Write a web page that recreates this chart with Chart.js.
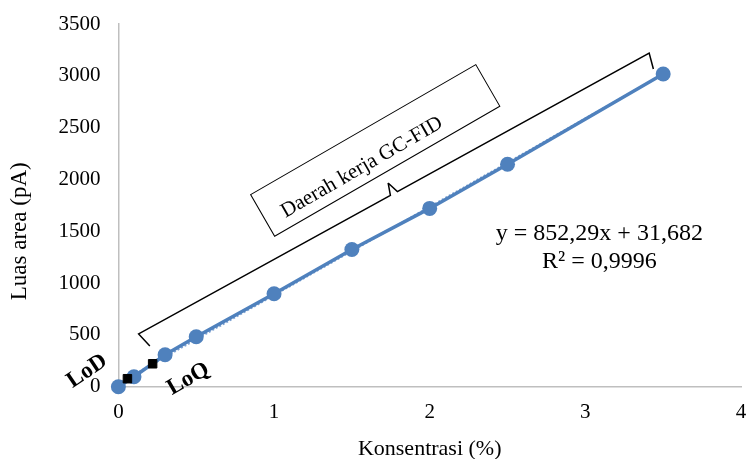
<!DOCTYPE html>
<html>
<head>
<meta charset="utf-8">
<script src="https://cdn.jsdelivr.net/npm/chart.js@4.4.1/dist/chart.umd.min.js"></script>
<style>
  html, body { margin: 0; padding: 0; background: #fff; overflow: hidden; }
  #wrap { width: 748px; height: 459px; }
</style>
</head>
<body>
<div id="wrap"><canvas id="kalibrasi"></canvas></div>
<script>
// calibration points
const konsentrasi = [0, 0.1, 0.3, 0.5, 1.0, 1.5, 2.0, 2.5, 3.5];
const luasArea = [0, 97, 309, 483, 897, 1325, 1721, 2147, 3017];

// linear trend (Excel) ends
const trendX = [0, 3.5];
const trendY = [31.682, 3014.7];

// LoD and LoQ markers
const limitX = [0.058, 0.22];
const limitY = [78, 222];

const xTicks = [0, 1, 2, 3, 4];
const yTicks = [0, 500, 1000, 1500, 2000, 2500, 3000, 3500];

const blue = '#4F81BD';
const serif = "'Liberation Serif', 'Times New Roman', serif";

// annotation helper plugin: bracket, rotated box, labels, equation
const annotasi = {
    id: 'annotasi',
    afterDatasetsDraw(chart) {
        const ctx = chart.ctx;
        const xs = chart.scales.x, ys = chart.scales.y;
        const px = v => xs.getPixelForValue(v);
        const py = v => ys.getPixelForValue(v);
        ctx.save();

        // bracket over the working range
        const x1 = px(0.13), y1 = py(510);
        const x2 = px(3.41), y2 = py(3220);
        const ang = Math.atan2(y2 - y1, x2 - x1);
        const nx = -Math.sin(ang), ny = Math.cos(ang); // normal pointing down-right
        const hook = 16;
        ctx.strokeStyle = '#000';
        ctx.lineWidth = 1.5;
        const mx = (x1 + x2) / 2, my = (y1 + y2) / 2;
        ctx.beginPath();
        ctx.moveTo(x1 + nx * hook + Math.cos(ang) * 4, y1 + ny * hook + Math.sin(ang) * 4);
        ctx.lineTo(x1, y1);
        ctx.lineTo(mx - Math.cos(ang) * 4, my - Math.sin(ang) * 4);
        ctx.lineTo(mx - nx * 12, my - ny * 12);
        ctx.moveTo(mx - nx * 12, my - ny * 12);
        ctx.lineTo(mx + Math.cos(ang) * 4, my + Math.sin(ang) * 4);
        ctx.lineTo(x2, y2);
        ctx.lineTo(x2 + nx * hook - Math.cos(ang) * 4, y2 + ny * hook - Math.sin(ang) * 4);
        ctx.stroke();

        // rotated text box
        const bx = px(1.65), by = py(2280);
        ctx.translate(bx, by);
        ctx.rotate(-30 * Math.PI / 180);
        ctx.fillStyle = '#fff';
        ctx.fillRect(-130, -24, 260, 48);
        ctx.lineWidth = 1;
        ctx.strokeRect(-130, -24, 260, 48);
        ctx.fillStyle = '#000';
        ctx.font = '21px ' + serif;
        ctx.textAlign = 'center';
        ctx.textBaseline = 'middle';
        ctx.fillText('Daerah kerja GC-FID', -20, 8);
        ctx.setTransform(1, 0, 0, 1, 0, 0);

        // LoD / LoQ labels
        ctx.font = 'bold 23px ' + serif;
        ctx.textAlign = 'center';
        ctx.textBaseline = 'middle';
        ctx.translate(px(-0.2), py(150));
        ctx.rotate(-34 * Math.PI / 180);
        ctx.fillText('LoD', 0, 0);
        ctx.setTransform(1, 0, 0, 1, 0, 0);
        ctx.translate(px(0.449), py(75));
        ctx.rotate(-30 * Math.PI / 180);
        ctx.fillText('LoQ', 0, 0);
        ctx.setTransform(1, 0, 0, 1, 0, 0);

        // y axis title, set lower like the original
        ctx.translate(20, py(1500));
        ctx.rotate(-Math.PI / 2);
        ctx.font = '23px ' + serif;
        ctx.fillText('Luas area (pA)', 0, 0);
        ctx.setTransform(1, 0, 0, 1, 0, 0);

        // trend equation
        ctx.font = '24px ' + serif;
        ctx.fillText('y = 852,29x + 31,682', px(3.09), py(1480));
        ctx.fillText('R² = 0,9996', px(3.09), py(1210));
        ctx.restore();
    }
};

// keep tick padding from adding to the outer margins
const noOverhang = axis => {
    axis.paddingTop = 0;
    axis.paddingBottom = 0;
    axis.paddingLeft = 0;
    axis.paddingRight = 0;
};

const ctx = document.getElementById('kalibrasi').getContext('2d');
const chart = new Chart(ctx, {
    type: 'scatter',
    data: {
        datasets: [
            {
                label: 'Trend',
                data: trendX.map((x, i) => ({ x: x, y: trendY[i] })),
                showLine: true,
                borderColor: '#7FA3D3',
                borderWidth: 2,
                borderDash: [2, 2],
                pointRadius: 0,
                order: 3
            },
            {
                label: 'Luas area',
                data: konsentrasi.map((x, i) => ({ x: x, y: luasArea[i] })),
                showLine: true,
                borderColor: blue,
                backgroundColor: blue,
                borderWidth: 3.5,
                pointRadius: 7.5,
                pointBorderWidth: 0,
                clip: false,
                order: 2
            },
            {
                label: 'LoD/LoQ',
                data: limitX.map((x, i) => ({ x: x, y: limitY[i] })),
                pointStyle: 'rect',
                pointRadius: 6,
                backgroundColor: '#000',
                borderColor: '#000',
                clip: false,
                order: 1
            }
        ]
    },
    options: {
        responsive: true,
        maintainAspectRatio: false,
        animation: false,
        layout: { autoPadding: false, padding: { left: 0, right: 7, top: 24, bottom: -1 } },
        scales: {
            x: {
                type: 'linear',
                min: 0,
                max: 4,
                afterBuildTicks: axis => { axis.ticks = xTicks.map(v => ({ value: v })); },
                afterFit: noOverhang,
                grid: { display: false, drawTicks: false },
                border: { display: true, color: '#BFBFBF', width: 1.5 },
                ticks: { color: '#000', font: { family: serif, size: 21 }, padding: 13, callback: v => String(v) },
                title: { display: true, text: 'Konsentrasi (%)', color: '#000', font: { family: serif, size: 22, lineHeight: 1 }, padding: { top: 0, bottom: 0 } }
            },
            y: {
                min: 0,
                max: 3500,
                afterBuildTicks: axis => { axis.ticks = yTicks.map(v => ({ value: v })); },
                afterFit: noOverhang,
                grid: { display: false, drawTicks: false },
                border: { display: true, color: '#BFBFBF', width: 1.5 },
                ticks: { color: '#000', font: { family: serif, size: 21 }, padding: 18, callback: v => String(v) },
                // space kept here, the text itself is drawn by the plugin
                title: { display: true, text: 'Luas area (pA)', color: 'rgba(0,0,0,0)', font: { family: serif, size: 22 }, padding: { top: 9, bottom: 5 } }
            }
        },
        plugins: {
            legend: { display: false },
            tooltip: { enabled: false }
        }
    },
    plugins: [annotasi]
});
</script>
</body>
</html>
